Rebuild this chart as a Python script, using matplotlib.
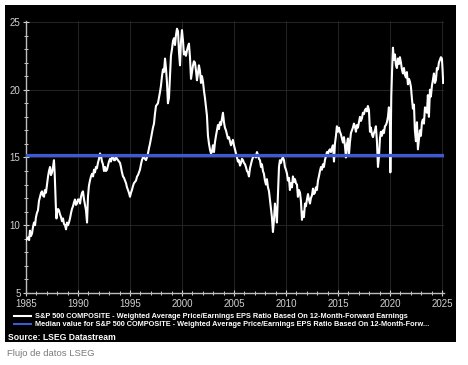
import matplotlib
matplotlib.use("Agg")
import matplotlib.pyplot as plt
from matplotlib.lines import Line2D
from matplotlib.patches import Rectangle
from matplotlib.ticker import MultipleLocator

# S&P 500 forward P/E (decimal year, ratio)
years = [
    1985.00, 1985.10, 1985.19, 1985.30, 1985.38, 1985.48, 1985.58, 1985.68, 1985.77, 1985.87,
    1985.96, 1986.05, 1986.15, 1986.25, 1986.35, 1986.45, 1986.54, 1986.63, 1986.73, 1986.82,
    1986.92, 1987.02, 1987.12, 1987.21, 1987.31, 1987.40, 1987.50, 1987.60, 1987.69, 1987.76,
    1987.82, 1987.88, 1987.93, 1987.98, 1988.08, 1988.17, 1988.27, 1988.37, 1988.46, 1988.56,
    1988.65, 1988.75, 1988.85, 1988.94, 1989.04, 1989.13, 1989.23, 1989.33, 1989.42, 1989.52,
    1989.62, 1989.71, 1989.80, 1989.90, 1990.00, 1990.10, 1990.20, 1990.29, 1990.39, 1990.48,
    1990.58, 1990.68, 1990.77, 1990.87, 1990.96, 1991.05, 1991.15, 1991.25, 1991.35, 1991.45,
    1991.54, 1991.63, 1991.73, 1991.82, 1991.92, 1992.02, 1992.12, 1992.21, 1992.31, 1992.40,
    1992.50, 1992.60, 1992.69, 1992.79, 1992.88, 1992.98, 1993.08, 1993.17, 1993.27, 1993.37,
    1993.46, 1993.56, 1993.66, 1993.75, 1993.85, 1993.94, 1994.04, 1994.13, 1994.23, 1994.33,
    1994.42, 1994.52, 1994.62, 1994.71, 1994.81, 1994.90, 1995.00, 1995.10, 1995.19, 1995.29,
    1995.38, 1995.48, 1995.58, 1995.68, 1995.77, 1995.87, 1995.96, 1996.06, 1996.15, 1996.25,
    1996.35, 1996.45, 1996.54, 1996.63, 1996.73, 1996.83, 1996.92, 1997.02, 1997.12, 1997.21,
    1997.31, 1997.40, 1997.50, 1997.60, 1997.69, 1997.79, 1997.88, 1997.98, 1998.08, 1998.17,
    1998.27, 1998.37, 1998.46, 1998.56, 1998.65, 1998.75, 1998.85, 1998.94, 1999.04, 1999.14,
    1999.23, 1999.33, 1999.42, 1999.52, 1999.62, 1999.71, 1999.81, 1999.90, 2000.00, 2000.10,
    2000.19, 2000.29, 2000.38, 2000.48, 2000.58, 2000.67, 2000.77, 2000.87, 2000.96, 2001.06,
    2001.15, 2001.25, 2001.35, 2001.44, 2001.54, 2001.63, 2001.73, 2001.83, 2001.92, 2002.02,
    2002.12, 2002.21, 2002.31, 2002.40, 2002.50, 2002.60, 2002.69, 2002.79, 2002.88, 2002.98,
    2003.08, 2003.17, 2003.27, 2003.37, 2003.46, 2003.56, 2003.65, 2003.75, 2003.85, 2003.94,
    2004.04, 2004.13, 2004.23, 2004.33, 2004.42, 2004.52, 2004.62, 2004.71, 2004.81, 2004.90,
    2005.00, 2005.10, 2005.19, 2005.29, 2005.38, 2005.48, 2005.58, 2005.68, 2005.77, 2005.87,
    2005.96, 2006.06, 2006.15, 2006.25, 2006.35, 2006.44, 2006.54, 2006.63, 2006.73, 2006.83,
    2006.92, 2007.02, 2007.12, 2007.21, 2007.31, 2007.40, 2007.50, 2007.60, 2007.69, 2007.79,
    2007.88, 2007.98, 2008.08, 2008.17, 2008.27, 2008.37, 2008.46, 2008.56, 2008.65, 2008.75,
    2008.85, 2008.94, 2009.04, 2009.13, 2009.23, 2009.33, 2009.42, 2009.52, 2009.62, 2009.71,
    2009.81, 2009.90, 2010.00, 2010.10, 2010.19, 2010.29, 2010.38, 2010.48, 2010.58, 2010.67,
    2010.77, 2010.87, 2010.96, 2011.06, 2011.15, 2011.25, 2011.35, 2011.44, 2011.54, 2011.63,
    2011.73, 2011.83, 2011.92, 2012.02, 2012.12, 2012.21, 2012.31, 2012.40, 2012.50, 2012.60,
    2012.69, 2012.79, 2012.88, 2012.98, 2013.08, 2013.17, 2013.27, 2013.37, 2013.46, 2013.56,
    2013.65, 2013.75, 2013.85, 2013.94, 2014.04, 2014.13, 2014.23, 2014.33, 2014.42, 2014.52,
    2014.62, 2014.71, 2014.81, 2014.90, 2015.00, 2015.10, 2015.19, 2015.29, 2015.38, 2015.48,
    2015.58, 2015.68, 2015.77, 2015.87, 2015.96, 2016.06, 2016.15, 2016.25, 2016.35, 2016.44,
    2016.54, 2016.63, 2016.73, 2016.83, 2016.92, 2017.02, 2017.12, 2017.21, 2017.31, 2017.40,
    2017.50, 2017.60, 2017.69, 2017.79, 2017.88, 2017.98, 2018.08, 2018.17, 2018.27, 2018.37,
    2018.46, 2018.56, 2018.65, 2018.75, 2018.85, 2018.94, 2019.04, 2019.13, 2019.23, 2019.33,
    2019.42, 2019.52, 2019.62, 2019.71, 2019.81, 2019.90, 2020.00, 2020.04, 2020.08, 2020.13,
    2020.21, 2020.29, 2020.38, 2020.48, 2020.58, 2020.67, 2020.77, 2020.87, 2020.96, 2021.06,
    2021.15, 2021.25, 2021.35, 2021.44, 2021.54, 2021.63, 2021.73, 2021.83, 2021.92, 2022.02,
    2022.12, 2022.21, 2022.31, 2022.40, 2022.50, 2022.60, 2022.69, 2022.79, 2022.88, 2022.98,
    2023.08, 2023.17, 2023.27, 2023.37, 2023.46, 2023.56, 2023.65, 2023.75, 2023.85, 2023.94,
    2024.04, 2024.13, 2024.23, 2024.33, 2024.42, 2024.52, 2024.62, 2024.71, 2024.81, 2024.90,
    2025.00, 2025.06, 2025.12,
]
pe_ratio = [
    8.9, 9.0, 9.1, 8.9, 9.6, 9.2, 9.4, 9.9, 10.2, 10.0,
    10.6, 10.9, 11.1, 11.8, 12.1, 12.4, 12.5, 12.2, 12.1, 12.6,
    12.4, 13.0, 13.6, 14.0, 14.3, 13.7, 13.9, 14.3, 14.8, 13.8,
    12.4, 11.2, 10.5, 10.9, 11.2, 11.1, 10.8, 10.6, 10.3, 10.5,
    10.1, 10.0, 9.7, 10.2, 10.0, 10.2, 10.5, 10.9, 11.2, 11.4,
    11.7, 11.9, 11.5, 11.6, 11.9, 11.9, 11.6, 12.1, 12.4, 12.5,
    11.9, 11.5, 11.1, 10.2, 12.1, 12.9, 13.3, 13.6, 13.8, 13.6,
    14.1, 13.9, 14.3, 14.2, 14.6, 14.9, 15.3, 15.1, 14.7, 14.5,
    14.0, 14.3, 14.0, 14.1, 14.4, 14.7, 14.9, 14.7, 15.0, 15.1,
    14.8, 14.8, 15.0, 14.9, 14.8, 14.7, 14.6, 14.3, 13.9, 13.6,
    13.5, 13.3, 13.1, 12.8, 12.6, 12.4, 12.1, 12.4, 12.6, 12.9,
    13.1, 13.2, 13.3, 13.6, 13.7, 13.9, 14.1, 14.5, 14.8, 15.0,
    15.0, 14.9, 14.8, 15.0, 15.3, 15.7, 16.0, 16.4, 16.8, 17.2,
    17.5, 18.2, 18.8, 18.9, 19.0, 19.4, 19.8, 20.3, 21.0, 21.5,
    21.3, 22.3, 21.6, 20.5, 19.0, 19.4, 21.0, 22.5, 23.0, 23.6,
    23.8, 23.3, 24.0, 24.5, 24.3, 22.8, 21.8, 23.5, 24.4, 23.6,
    22.6, 22.8, 22.5, 22.9, 23.2, 23.4, 22.4, 20.8, 21.3, 21.8,
    22.1, 22.0, 21.4, 20.7, 21.2, 21.8, 21.4, 20.5, 21.0, 20.6,
    19.9, 19.4, 18.7, 18.1, 16.6, 16.0, 15.6, 15.3, 15.4, 15.9,
    15.4, 16.1, 16.6, 17.0, 17.4, 17.1, 17.6, 17.4, 17.9, 18.3,
    17.6, 17.2, 17.0, 16.7, 16.4, 16.5, 16.2, 15.9, 16.1, 16.3,
    15.9, 15.6, 15.3, 15.0, 14.7, 14.8, 14.4, 14.6, 14.9, 14.8,
    14.6, 14.5, 14.3, 14.0, 13.9, 13.6, 14.2, 14.5, 14.8, 15.0,
    15.1, 15.2, 15.0, 15.4, 15.2, 14.9, 14.8, 14.3, 14.5, 14.0,
    13.8, 13.3, 13.0, 13.4, 12.8, 12.5, 11.9, 11.3, 10.6, 9.5,
    10.4, 11.6, 11.0, 10.2, 12.3, 14.3, 14.8, 14.6, 14.9, 15.0,
    14.8, 14.3, 14.1, 13.8, 13.3, 13.5, 12.6, 13.1, 12.8, 13.6,
    13.2, 13.4, 13.1, 13.0, 12.1, 12.6, 12.4, 11.8, 10.4, 11.0,
    10.6, 11.6, 11.4, 11.9, 12.3, 11.9, 11.6, 12.0, 12.2, 12.7,
    12.3, 12.4, 12.8, 12.6, 13.3, 13.6, 14.0, 14.3, 14.1, 14.5,
    14.3, 14.8, 15.1, 15.4, 15.2, 15.5, 15.6, 15.4, 15.7, 15.9,
    14.7, 16.0, 16.6, 17.3, 16.9, 17.2, 16.9, 16.7, 16.4, 16.1,
    16.5, 15.8, 15.0, 16.0, 16.4, 15.2, 16.1, 16.8, 17.0, 17.2,
    17.5, 17.3, 16.9, 17.4, 17.2, 17.6, 18.0, 17.7, 17.9, 18.3,
    18.2, 18.5, 18.6, 18.4, 18.8, 18.5, 16.9, 17.2, 16.7, 16.5,
    16.8, 17.0, 17.3, 16.2, 14.3, 15.0, 16.4, 16.9, 16.6, 17.0,
    16.8, 17.3, 17.4, 17.6, 18.0, 18.7, 17.5, 13.9, 16.5, 19.5,
    21.5, 23.1, 22.2, 22.6, 21.8, 21.6, 22.3, 21.9, 22.4, 22.0,
    21.5, 21.2, 21.6, 21.1, 20.9, 21.3, 20.4, 20.8, 20.6, 20.2,
    19.3, 18.6, 18.9, 17.0, 16.2, 17.6, 15.6, 16.3, 17.0, 16.6,
    17.6, 17.8, 17.5, 18.7, 18.6, 18.3, 19.6, 18.0, 20.0, 19.5,
    20.3, 20.7, 21.2, 20.5, 20.7, 21.6, 21.5, 22.0, 22.2, 22.4,
    22.3, 21.5, 20.5,
]
median_pe = 15.2

x_ticks = [1985, 1990, 1995, 2000, 2005, 2010, 2015, 2020, 2025]
y_ticks = [5, 10, 15, 20, 25]

series_label = ("S&P 500 COMPOSITE - Weighted Average Price/Earnings EPS Ratio "
                "Based On 12-Month-Forward Earnings")
median_label = ("Median value for S&P 500 COMPOSITE - Weighted Average Price/Earnings "
                "EPS Ratio Based On 12-Month-Forw...")

W, H = 468, 365
fig = plt.figure(figsize=(W / 100, H / 100), dpi=100, facecolor="white")

# black panel behind the chart
fig.patches.append(Rectangle((5 / W, 1 - 342 / H), 451 / W, 337 / H,
                             transform=fig.transFigure, facecolor="black",
                             edgecolor="none", zorder=-5))

ax = fig.add_axes([26 / W, 1 - 293 / H, 418 / W, (293 - 20.6) / H])
ax.set_facecolor("black")
ax.set_zorder(2)

ax.plot(years, pe_ratio, color="white", lw=1.5, zorder=3)
ax.axhline(median_pe, color="#3a5ad6", lw=2.3, zorder=4, xmax=(2025.05 - 1985) / 40.2)

ax.set_xlim(1985, 2025.2)
ax.set_ylim(5, 25.1)
ax.set_xticks(x_ticks)
ax.set_yticks(y_ticks)
ax.xaxis.set_minor_locator(MultipleLocator(1))
ax.yaxis.set_minor_locator(MultipleLocator(1))
ax.grid(True, which="major", color="#2b2b2b", lw=0.6)

for s in ["top", "right"]:
    ax.spines[s].set_visible(False)
for s in ["left", "bottom"]:
    ax.spines[s].set_color("#bdbdbd")
    ax.spines[s].set_linewidth(1.0)

ax.tick_params(which="major", direction="inout", length=4, width=0.8,
               color="#cfcfcf", labelcolor="#d0d0d0", labelsize=7)
ax.tick_params(which="minor", direction="inout", length=2.5, width=0.7,
               color="#cfcfcf")
ax.tick_params(axis="y", pad=2)
ax.tick_params(axis="x", pad=2)
for lbl in ax.get_xticklabels() + ax.get_yticklabels():
    lbl.set_fontfamily("Liberation Sans")

# legend rows
fig.add_artist(Line2D([14 / W, 31 / W], [1 - 316 / H] * 2, color="white", lw=1.5))
fig.add_artist(Line2D([14 / W, 31 / W], [1 - 324 / H] * 2, color="#3a5ad6", lw=1.5))
fig.text(35 / W, 1 - 316 / H, series_label, color="white", fontsize=5.3,
         fontweight="bold", family="Liberation Sans", va="center")
fig.text(35 / W, 1 - 324 / H, median_label, color="white", fontsize=5.3,
         fontweight="bold", family="Liberation Sans", va="center")
fig.text(8 / W, 1 - 337 / H, "Source: LSEG Datastream", color="white", fontsize=6.2,
         fontweight="bold", family="Liberation Sans", va="center")

fig.text(7 / W, 1 - 353 / H, "Flujo de datos LSEG", color="#7a7a7a", fontsize=6.8,
         family="Liberation Sans", va="center")

fig.savefig("out.png", dpi=100, facecolor="white")
